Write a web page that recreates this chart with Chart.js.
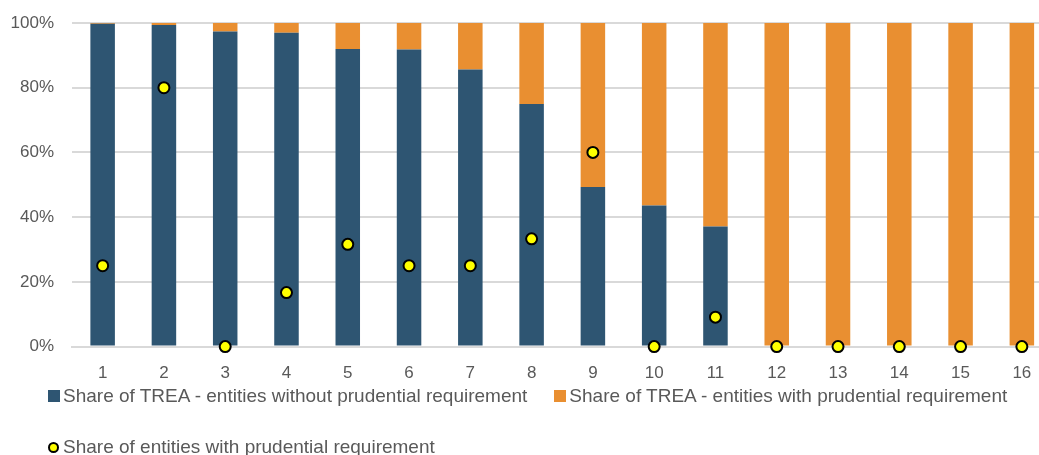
<!DOCTYPE html>
<html>
<head>
<meta charset="utf-8">
<script src="https://cdn.jsdelivr.net/npm/chart.js@4"></script>
<style>
  html, body { margin: 0; padding: 0; background: #fff; overflow: hidden; }
  #wrap { position: relative; width: 1039px; height: 455px; overflow: hidden; }
  #legend {
    position: absolute; left: 48px; top: 386px; width: 990px;
    font-family: 'Liberation Sans', Arial, sans-serif; font-size: 19px; color: #595959;
  }
  .row { display: flex; align-items: center; height: 20px; white-space: nowrap; }
  .row + .row { margin-top: 31px; }
  .item { display: flex; align-items: center; margin-right: 27px; }
  .box { width: 12px; height: 12px; margin-right: 3px; box-sizing: border-box; }
  .dot { width: 11px; height: 11px; border-radius: 50%; border: 2px solid #000; margin-right: 4px; box-sizing: border-box; }
</style>
</head>
<body>
<div id="wrap">
  <!-- the plot runs a little past the right edge of the picture, as in the original crop -->
  <canvas id="chart" width="1060" height="455"></canvas>
  <div id="legend"></div>
</div>
<script>
// Data
const categories = ['1','2','3','4','5','6','7','8','9','10','11','12','13','14','15','16'];
const withoutReq = [99.8, 99.4, 97.4, 97.0, 92.0, 91.8, 85.6, 75.0, 49.3, 43.6, 37.1, 0, 0, 0, 0, 0];
const withReq = [0.2, 0.6, 2.6, 3.0, 8.0, 8.2, 14.4, 25.0, 50.7, 56.4, 62.9, 100, 100, 100, 100, 100];
const entitiesShare = [25, 80, 0, 16.7, 31.6, 25, 25, 33.3, 60, 0, 9.1, 0, 0, 0, 0, 0];
const yTicks = [0, 20, 40, 60, 80, 100];

const FONT = "'Liberation Sans', Arial, sans-serif";
const GREY = '#595959';

const chart = new Chart(document.getElementById('chart').getContext('2d'), {
    type: 'bar',
    data: {
        labels: categories,
        datasets: [{
            label: 'Share of TREA - entities without prudential requirement',
            data: withoutReq,
            backgroundColor: '#2E5572',
            barPercentage: 0.8,
            categoryPercentage: 0.5,
            order: 2
        }, {
            label: 'Share of TREA - entities with prudential requirement',
            data: withReq,
            backgroundColor: '#E98F31',
            barPercentage: 0.8,
            categoryPercentage: 0.5,
            order: 2
        }, {
            type: 'line',
            label: 'Share of entities with prudential requirement',
            data: entitiesShare,
            showLine: false,
            pointStyle: 'circle',
            pointRadius: 5.5,
            pointHoverRadius: 5.5,
            pointBackgroundColor: '#FFFF00',
            pointBorderColor: '#000000',
            pointBorderWidth: 2,
            backgroundColor: '#FFFF00',
            borderColor: '#000000',
            clip: false,
            order: 1
        }]
    },
    options: {
        responsive: false,
        animation: false,
        layout: { padding: { left: 0, right: -2, top: 23, bottom: 54 } },
        plugins: {
            tooltip: { enabled: false },
            legend: { display: false }
        },
        scales: {
            x: {
                stacked: true,
                grid: { display: false, drawTicks: false },
                border: { color: '#D9D9D9', width: 2 },
                afterFit: axis => { axis.paddingLeft = 0; axis.paddingRight = 0; },
                ticks: { color: GREY, font: { family: FONT, size: 17 }, padding: 17 }
            },
            y: {
                stacked: true,
                min: 0,
                max: 100,
                afterBuildTicks: axis => { axis.ticks = yTicks.map(v => ({ value: v })); },
                afterFit: axis => { axis.width = 72; axis.paddingTop = 0; axis.paddingBottom = 0; },
                grid: { color: '#D9D9D9', lineWidth: 2, drawTicks: false },
                border: { display: false },
                ticks: {
                    color: GREY,
                    font: { family: FONT, size: 17 },
                    padding: 18,
                    callback: v => v + '%'
                }
            }
        }
    }
});

// Legend built from the chart's datasets (two rows as in the original)
const legend = document.getElementById('legend');
const rows = [[0, 1], [2]];
rows.forEach(idxs => {
    const row = document.createElement('div');
    row.className = 'row';
    idxs.forEach(i => {
        const ds = chart.data.datasets[i];
        const item = document.createElement('div');
        item.className = 'item';
        const mark = document.createElement('span');
        if (ds.type === 'line') {
            mark.className = 'dot';
            mark.style.background = ds.pointBackgroundColor;
        } else {
            mark.className = 'box';
            mark.style.background = ds.backgroundColor;
        }
        const txt = document.createElement('span');
        txt.textContent = ds.label;
        item.appendChild(mark);
        item.appendChild(txt);
        row.appendChild(item);
    });
    legend.appendChild(row);
});
</script>
</body>
</html>
